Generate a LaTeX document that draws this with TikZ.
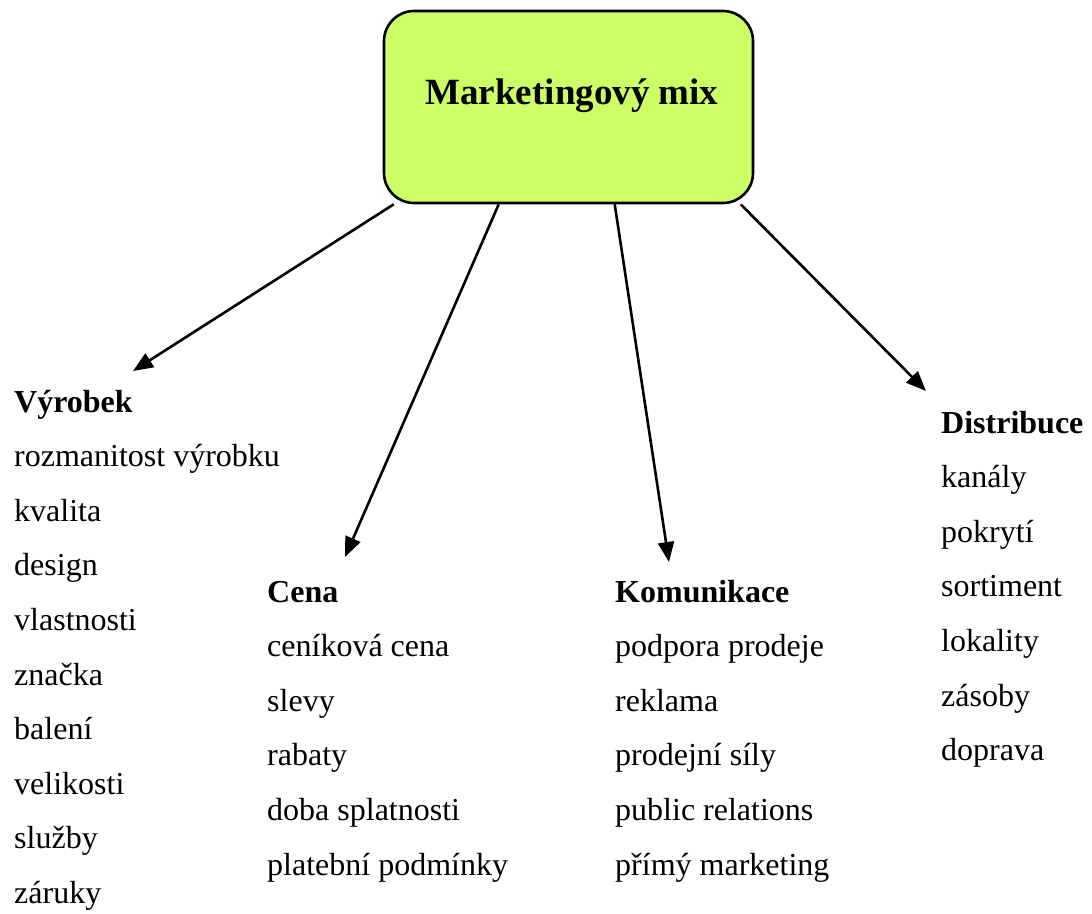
\documentclass[tikz,border=0pt]{standalone}
\usepackage{fontspec}
\setmainfont{Liberation Serif}
\usetikzlibrary{arrows.meta}
\definecolor{mixgreen}{HTML}{CCFF66}

\begin{document}
\begin{tikzpicture}[x=1pt,y=-1pt,
  arr/.style={line width=2.6pt,-{Triangle[length=20pt,width=16pt]}},
  mixbox/.style={draw,line width=2.6pt,fill=mixgreen,rounded corners=30pt,minimum width=369pt,minimum height=192pt,inner sep=0pt},
  head/.style={anchor=base west,inner sep=0pt,font=\fontsize{32}{38}\selectfont\bfseries},
  item/.style={anchor=base west,inner sep=0pt,font=\fontsize{32}{38}\selectfont}]
\useasboundingbox (0,0) rectangle (1092,913);
% central box
\node[mixbox] (mix) at (568.5,107) {};
\node[anchor=base,inner sep=0pt,font=\fontsize{37}{44}\selectfont\bfseries] (title) at (572,104) {Marketingový mix};

% four columns
\node[head] (vyrobek) at (14,412) {Výrobek};
\foreach \t [count=\i] in {rozmanitost výrobku,kvalita,design,vlastnosti,značka,balení,velikosti,služby,záruky}
  \node[item] (vyr\i) at (14,412+54.6*\i) {\t};

\node[head] (cena) at (267,602) {Cena};
\foreach \t [count=\i] in {ceníková cena,slevy,rabaty,doba splatnosti,platební podmínky}
  \node[item] (cen\i) at (267,602+54.6*\i) {\t};

\node[head] (komunikace) at (615,602) {Komunikace};
\foreach \t [count=\i] in {podpora prodeje,reklama,prodejní síly,public relations,přímý marketing}
  \node[item] (kom\i) at (615,602+54.6*\i) {\t};

\node[head] (distribuce) at (941,433) {Distribuce};
\foreach \t [count=\i] in {kanály,pokrytí,sortiment,lokality,zásoby,doprava}
  \node[item] (dis\i) at (941,433+54.6*\i) {\t};

% arrows
\coordinate (t1) at (133,371);
\coordinate (t2) at (345,557);
\coordinate (t3) at (669,562);
\coordinate (t4) at (926,391);
\draw[arr] ([xshift=11pt]mix.south west)--(t1);
\draw[arr] ([xshift=116pt]mix.south west)--(t2);
\draw[arr] ([xshift=232pt]mix.south west)--(t3);
\draw[arr] ([xshift=358pt]mix.south west)--(t4);
\end{tikzpicture}
\end{document}
